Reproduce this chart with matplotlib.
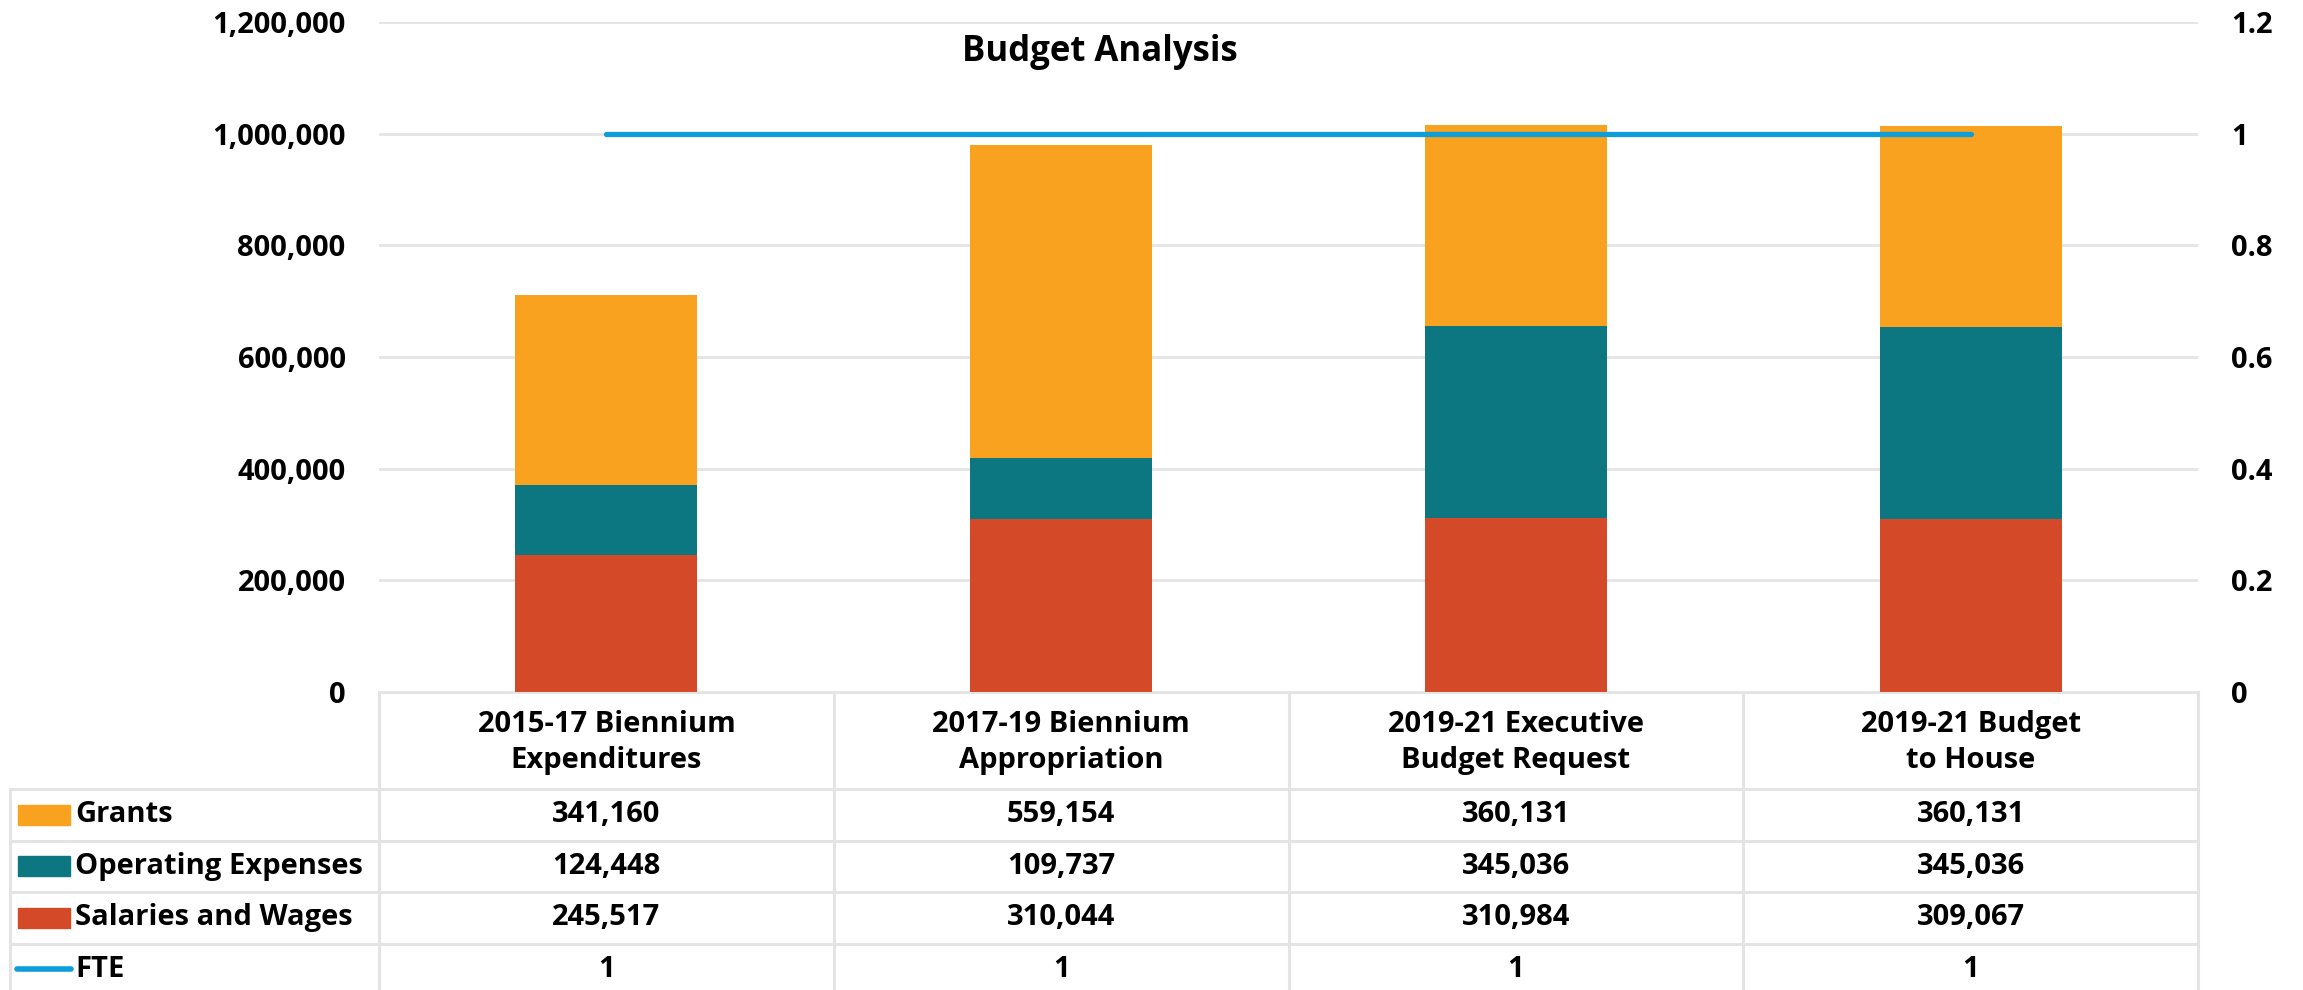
import matplotlib
matplotlib.use("Agg")
import matplotlib.pyplot as plt
import matplotlib.transforms as mtransforms
from matplotlib.ticker import FuncFormatter

# data
categories = ["2015-17 Biennium\nExpenditures", "2017-19 Biennium\nAppropriation",
              "2019-21 Executive\nBudget Request", "2019-21 Budget\nto House"]
grants = [341160, 559154, 360131, 360131]
operating = [124448, 109737, 345036, 345036]
salaries = [245517, 310044, 310984, 309067]
fte = [1, 1, 1, 1]

c_grants = "#F9A21F"
c_oper = "#0C7681"
c_sal = "#D44927"
c_fte = "#0C9ED9"
grid_c = "#E4E4E4"

plt.rcParams['font.family'] = ['Open Sans', 'DejaVu Sans']
plt.rcParams['font.weight'] = 'bold'
fs = 21

W, H = 2303, 990
fig = plt.figure(figsize=(W / 100, H / 100), dpi=100)

# pixel layout of the plot area
left_px, right_px, top_px, zero_px = 379, 2198, 22, 692
ax = fig.add_axes([left_px / W, 1 - zero_px / H, (right_px - left_px) / W, (zero_px - top_px) / H])
ax2 = ax.twinx()

x = list(range(len(categories)))
bottom2 = [s + o for s, o in zip(salaries, operating)]
ax.bar(x, salaries, width=0.4, color=c_sal, zorder=3)
ax.bar(x, operating, width=0.4, bottom=salaries, color=c_oper, zorder=3)
ax.bar(x, grants, width=0.4, bottom=bottom2, color=c_grants, zorder=3)

ax.set_xlim(-0.5, len(categories) - 0.5)
ax.set_ylim(0, 1200000)
ax.set_yticks(range(0, 1200001, 200000))
ax.yaxis.set_major_formatter(FuncFormatter(lambda v, p: f"{int(v):,}"))
ax.grid(axis="y", color=grid_c, linewidth=2, zorder=0)
ax.set_axisbelow(True)
ax.set_xticks([])
ax.tick_params(axis="y", length=0, pad=24, labelsize=fs)

ax2.plot(x, fte, color=c_fte, linewidth=3.8, solid_capstyle="round", zorder=4)
ax2.set_ylim(0, 1.2)
ax2.set_yticks([0, 0.2, 0.4, 0.6, 0.8, 1.0, 1.2])
ax2.yaxis.set_major_formatter(FuncFormatter(lambda v, p: f"{v:g}"))
ax2.tick_params(axis="y", length=0, pad=24, labelsize=fs)

for a in (ax, ax2):
    for s in a.spines.values():
        s.set_visible(False)

fig.text(1100 / W, 1 - 52 / H, "Budget Analysis", ha="center", va="center",
         fontsize=25, fontweight="bold")

# data table below the chart
tab = fig.add_axes([0, 0, 1, 1], zorder=-1)
tab.set_xlim(0, W)
tab.set_ylim(H, 0)
tab.axis("off")
tr = mtransforms.blended_transform_factory(ax.transData, tab.transData)

header_bot = 789
row_h = 51.5
rows = [("Grants", grants, "patch", c_grants),
        ("Operating Expenses", operating, "patch", c_oper),
        ("Salaries and Wages", salaries, "patch", c_sal),
        ("FTE", fte, "line", c_fte)]
table_left = 10

lw_t = 2.2
# horizontal lines
tab.plot([left_px, right_px], [zero_px, zero_px], color=grid_c, lw=lw_t)
for i in range(len(rows)):
    y = header_bot + i * row_h
    tab.plot([table_left, right_px], [y, y], color=grid_c, lw=lw_t)
# vertical lines
tab.plot([table_left, table_left], [header_bot, H], color=grid_c, lw=lw_t)
for i in range(len(categories) + 1):
    tab.plot([i - 0.5, i - 0.5], [zero_px, H], color=grid_c, lw=lw_t, transform=tr)

for i, cat in enumerate(categories):
    tab.text(i, (zero_px + header_bot) / 2 + 2, cat, transform=tr, ha="center", va="center",
             fontsize=fs, fontweight="bold", linespacing=1.3)

for r, (name, vals, kind, col) in enumerate(rows):
    yc = header_bot + (r + 0.5) * row_h
    if kind == "patch":
        tab.add_patch(plt.Rectangle((18, yc - 10), 52, 20, color=col))
    else:
        tab.plot([17, 71], [yc, yc], color=col, lw=4, solid_capstyle="round")
    tab.text(75, yc, name, ha="left", va="center", fontsize=fs, fontweight="bold")
    for i, v in enumerate(vals):
        tab.text(i, yc, f"{v:,}", transform=tr, ha="center", va="center",
                 fontsize=fs, fontweight="bold")

fig.savefig("out.png", dpi=100)
